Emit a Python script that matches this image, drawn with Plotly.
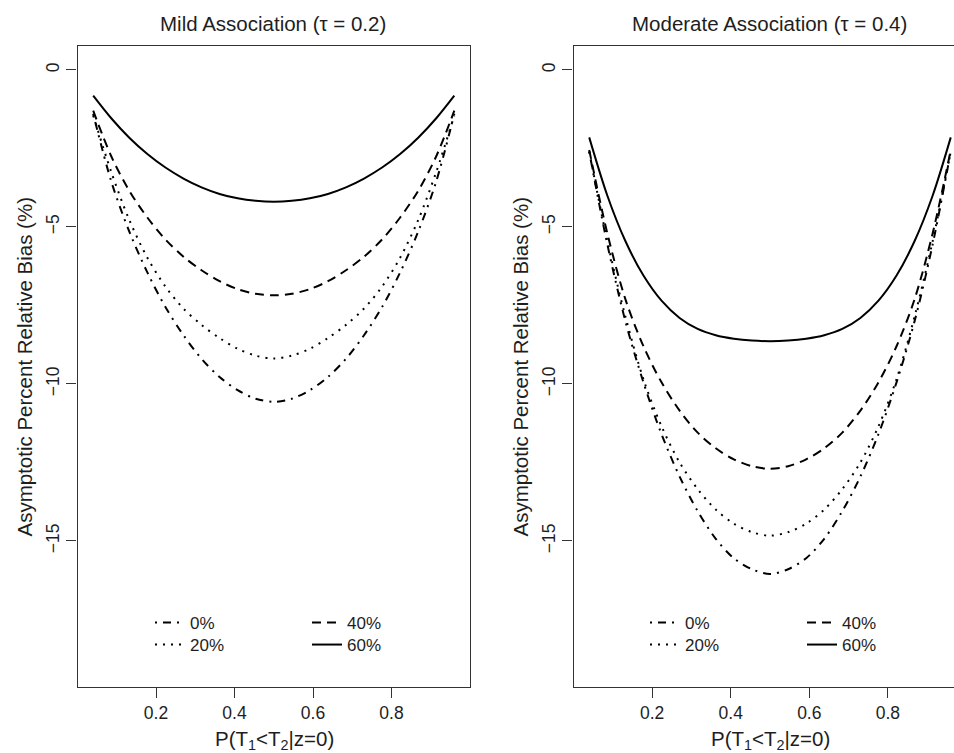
import plotly.graph_objects as go

W, H = 954, 753

# ---- data ----
p_vals = [0.040, 0.086, 0.132, 0.178, 0.224, 0.270, 0.316, 0.362, 0.408, 0.454, 0.500,
          0.546, 0.592, 0.638, 0.684, 0.730, 0.776, 0.822, 0.868, 0.914, 0.960]

# Mild association (tau = 0.2)
mild_0 = [-1.40, -3.55, -5.15, -6.45, -7.55, -8.45, -9.20, -9.78, -10.20, -10.47, -10.57,
          -10.47, -10.20, -9.78, -9.20, -8.45, -7.55, -6.45, -5.15, -3.55, -1.40]
mild_20 = [-1.45, -3.25, -4.78, -5.98, -6.90, -7.60, -8.12, -8.54, -8.88, -9.10, -9.19,
           -9.10, -8.88, -8.54, -8.12, -7.60, -6.90, -5.98, -4.78, -3.25, -1.45]
mild_40 = [-1.30, -2.75, -3.85, -4.70, -5.40, -5.95, -6.38, -6.73, -6.98, -7.13, -7.18,
           -7.13, -6.98, -6.73, -6.38, -5.95, -5.40, -4.70, -3.85, -2.75, -1.30]
mild_60 = [-0.82, -1.54, -2.16, -2.68, -3.11, -3.46, -3.74, -3.95, -4.09, -4.17, -4.20,
           -4.17, -4.09, -3.95, -3.74, -3.46, -3.11, -2.68, -2.16, -1.54, -0.82]

# Moderate association (tau = 0.4)
mod_0 = [-2.60, -5.55, -8.00, -9.95, -11.60, -12.95, -14.05, -14.93, -15.55, -15.90, -16.05,
         -15.90, -15.55, -14.93, -14.05, -12.95, -11.60, -9.95, -8.00, -5.55, -2.60]
mod_20 = [-2.60, -5.45, -7.85, -9.85, -11.35, -12.50, -13.35, -14.00, -14.45, -14.72, -14.83,
          -14.72, -14.45, -14.00, -13.35, -12.50, -11.35, -9.85, -7.85, -5.45, -2.60]
mod_40 = [-2.55, -5.20, -7.30, -8.80, -9.95, -10.85, -11.55, -12.05, -12.40, -12.62, -12.70,
          -12.62, -12.40, -12.05, -11.55, -10.85, -9.95, -8.80, -7.30, -5.20, -2.55]
mod_60 = [-2.15, -4.00, -5.45, -6.55, -7.35, -7.90, -8.25, -8.45, -8.56, -8.62, -8.64,
          -8.62, -8.56, -8.45, -8.25, -7.90, -7.35, -6.55, -5.45, -4.00, -2.15]

series_names = ["0%", "20%", "40%", "60%"]
mild_series = [mild_0, mild_20, mild_40, mild_60]
mod_series = [mod_0, mod_20, mod_40, mod_60]

x_ticks = [0.2, 0.4, 0.6, 0.8]
y_ticks = [0, -5, -10, -15]

titles = ["Mild Association (\u03c4 = 0.2)", "Moderate Association (\u03c4 = 0.4)"]
x_title = "P(T<sub>1</sub>&lt;T<sub>2</sub>|z=0)"
y_title = "Asymptotic Percent Relative Bias (%)"

# ---- styles ----
FONT = "Liberation Sans, Arial, Helvetica, sans-serif"
INK = "#1e1e1e"
AX = "#333333"
dashes = {"0%": "2px,6px,8px,6px", "20%": "2px,6px", "40%": "9px,6px", "60%": "solid"}

# one legend per entry so the 2x2 layout matches: (column, row)
legend_slot = {"0%": (0, 0), "20%": (0, 1), "40%": (1, 0), "60%": (1, 1)}
col_x = {0: [150, 307], 1: [645, 802]}   # legend left edges (px) per panel
row_y = [623, 645]                        # legend row centres (px)

fig = go.Figure()
legend_layout = {}
k = 0
for panel, (series, xa, ya) in enumerate([(mild_series, "x", "y"), (mod_series, "x2", "y2")]):
    for name, ys in zip(series_names, series):
        k += 1
        lg = "legend" if k == 1 else f"legend{k}"
        c, r = legend_slot[name]
        legend_layout[lg] = dict(
            x=col_x[panel][c] / W, y=1 - row_y[r] / H, xanchor="left", yanchor="middle",
            xref="paper", yref="paper", orientation="v", bgcolor="rgba(0,0,0,0)",
            borderwidth=0, font=dict(family=FONT, size=17, color=INK))
        fig.add_trace(go.Scatter(x=p_vals, y=ys, mode="lines", name=name,
                                 line=dict(color="black", width=2, dash=dashes[name],
                                           shape="spline", smoothing=0.9),
                                 xaxis=xa, yaxis=ya, legend=lg))

def px_x(v):
    return v / W

def px_y(v):
    return 1 - v / H

common_axis = dict(showgrid=False, zeroline=False, showline=True, linecolor=AX, linewidth=1.3,
                   ticks="outside", ticklen=10, tickwidth=1.3, tickcolor=AX,
                   tickfont=dict(family=FONT, size=17.5, color=INK))

y_dom = [px_y(687), px_y(46)]
y_rng = [-19.65, 0.76]

fig.update_layout(
    width=W, height=H, margin=dict(l=0, r=0, t=0, b=0),
    paper_bgcolor="white", plot_bgcolor="white",
    showlegend=True,
    xaxis=dict(domain=[px_x(77.5), px_x(470)], range=[0, 1], tickvals=x_ticks, mirror=True,
               anchor="y", **common_axis),
    yaxis=dict(domain=y_dom, range=y_rng, tickvals=y_ticks, tickangle=-90, mirror=True,
               anchor="x", **common_axis),
    xaxis2=dict(domain=[px_x(573.5), 1.0], range=[0, (954 - 573) / 393.5], tickvals=x_ticks,
                mirror=True, anchor="y2", **common_axis),
    yaxis2=dict(domain=y_dom, range=y_rng, tickvals=y_ticks, tickangle=-90, mirror=False,
                anchor="x2", **common_axis),
    **legend_layout,
)

ann = []
ann.append(dict(text=titles[0], x=px_x(273), y=px_y(24), xref="paper", yref="paper",
                showarrow=False, xanchor="center", yanchor="middle",
                font=dict(family=FONT, size=20.5, color=INK)))
ann.append(dict(text=titles[1], x=px_x(769), y=px_y(24), xref="paper", yref="paper",
                showarrow=False, xanchor="center", yanchor="middle",
                font=dict(family=FONT, size=20.5, color=INK)))
for cx in (274, 770):
    ann.append(dict(text=x_title, x=px_x(cx), y=px_y(740), xref="paper", yref="paper",
                    showarrow=False, xanchor="center", yanchor="middle",
                    font=dict(family=FONT, size=20.5, color=INK)))
for cx in (24, 520):
    ann.append(dict(text=y_title, x=px_x(cx), y=px_y(366.5), xref="paper", yref="paper",
                    showarrow=False, xanchor="center", yanchor="middle", textangle=-90,
                    font=dict(family=FONT, size=20.5, color=INK)))
fig.update_layout(annotations=ann)

fig.write_html("out.html")
